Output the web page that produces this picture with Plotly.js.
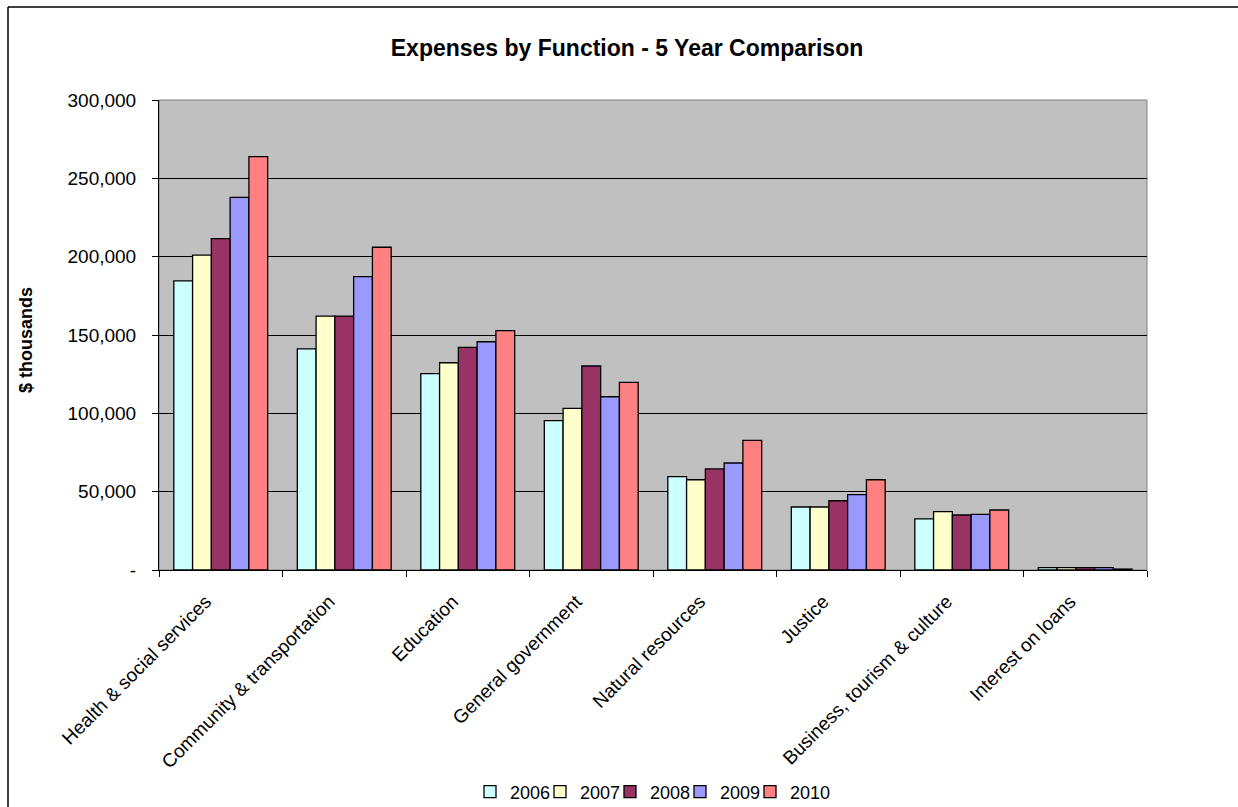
<!DOCTYPE html>
<html>
<head>
<meta charset="utf-8">
<script src="https://cdn.plot.ly/plotly-3.0.1.min.js"></script>
<style>
  html, body { margin: 0; padding: 0; background: #ffffff; }
  #chart { width: 1238px; height: 807px; }
</style>
</head>
<body>
<div id="chart"></div>
<script>
const categories = [
  "Health & social services",
  "Community & transportation",
  "Education",
  "General government",
  "Natural resources",
  "Justice",
  "Business, tourism & culture",
  "Interest on loans"
];
const years = ["2006", "2007", "2008", "2009", "2010"];
const values2006 = [184500, 141100, 125300, 95300, 59600, 40200, 32600, 1500];
const values2007 = [201000, 162100, 132300, 103200, 57600, 40200, 37200, 1500];
const values2008 = [211500, 162100, 142100, 130200, 64500, 44200, 35100, 1500];
const values2009 = [237900, 187200, 145700, 110600, 68300, 48100, 35500, 1500];
const values2010 = [263800, 206000, 152800, 119800, 82800, 57600, 38300, 600];
const seriesValues = [values2006, values2007, values2008, values2009, values2010];
const colors = ["#CCFFFF", "#FFFFCC", "#993366", "#9999FF", "#FF8080"];
const yTickVals = [0, 50000, 100000, 150000, 200000, 250000, 300000];
const yTickText = ["-", "50,000", "100,000", "150,000", "200,000", "250,000", "300,000"];

const font = "Liberation Sans, Arial, sans-serif";

// page geometry in px -> paper coords
const W = 1238, H = 807;
const L = 159, R = 1147, T = 100, B = 570;
const px = v => (v - L) / (R - L);
const py = v => (B - v) / (B - T);

const legendKeys = ["legend", "legend2", "legend3", "legend4", "legend5"];
const legendLeft = [470, 540, 610, 680, 750];

const traces = years.map((yr, i) => ({
  type: "bar",
  name: yr,
  x: categories,
  y: seriesValues[i],
  legend: legendKeys[i],
  marker: { color: colors[i], line: { color: "#000000", width: 1.3 } },
  hoverinfo: "x+y+name"
}));

const layout = {
  width: W,
  height: H,
  margin: { l: L, r: W - R, t: T, b: H - B, pad: 0, autoexpand: false },
  paper_bgcolor: "#ffffff",
  plot_bgcolor: "#C0C0C0",
  font: { family: font, size: 19, color: "#000000" },
  title: {
    text: "<b>Expenses by Function - 5 Year Comparison</b>",
    font: { family: font, size: 23, color: "#000000" },
    x: 627 / W, xanchor: "center",
    y: 1 - 48 / H, yanchor: "middle"
  },
  barmode: "group",
  bargap: 0.24,
  bargroupgap: 0,
  xaxis: {
    type: "category",
    tickangle: -45,
    tickson: "boundaries",
    ticks: "outside",
    ticklen: 6,
    tickcolor: "#000000",
    tickwidth: 1,
    showgrid: false,
    showline: true,
    linecolor: "#000000",
    linewidth: 1,
    automargin: false,
    tickfont: { family: font, size: 19, color: "#000000" },
    ticklabelstandoff: 12,
    ticklabelshift: -15,
    fixedrange: true
  },
  yaxis: {
    range: [0, 300000],
    tickvals: yTickVals,
    ticktext: yTickText,
    ticks: "outside",
    ticklen: 6,
    tickcolor: "#000000",
    showgrid: true,
    gridcolor: "#000000",
    gridwidth: 1,
    zeroline: false,
    showline: true,
    linecolor: "#000000",
    linewidth: 1,
    automargin: false,
    tickfont: { family: font, size: 19, color: "#000000" },
    ticklabelstandoff: 12,
    title: {
      text: "<b>$ thousands\u00a0\u00a0</b>",
      font: { family: font, size: 18, color: "#000000" },
      standoff: 30
    },
    fixedrange: true
  },
  showlegend: true,
  shapes: [
    { type: "rect", xref: "paper", yref: "paper", x0: 0, x1: 1, y0: 0, y1: 1,
      line: { color: "#808080", width: 1 }, layer: "below" },
    { type: "line", xref: "paper", yref: "paper", x0: px(8), x1: px(1240), y0: py(7), y1: py(7),
      line: { color: "#000000", width: 1.5 } },
    { type: "line", xref: "paper", yref: "paper", x0: px(8), x1: px(8), y0: py(7), y1: py(815),
      line: { color: "#000000", width: 1.5 } }
  ]
};

legendKeys.forEach((k, i) => {
  layout[k] = {
    orientation: "h",
    xref: "container", yref: "container",
    x: legendLeft[i] / W, xanchor: "left",
    y: 1 - 792 / H, yanchor: "middle",
    font: { family: font, size: 18, color: "#000000" },
    bgcolor: "rgba(0,0,0,0)",
    itemwidth: 30
  };
});

Plotly.newPlot("chart", traces, layout, { displayModeBar: false });
</script>
</body>
</html>
